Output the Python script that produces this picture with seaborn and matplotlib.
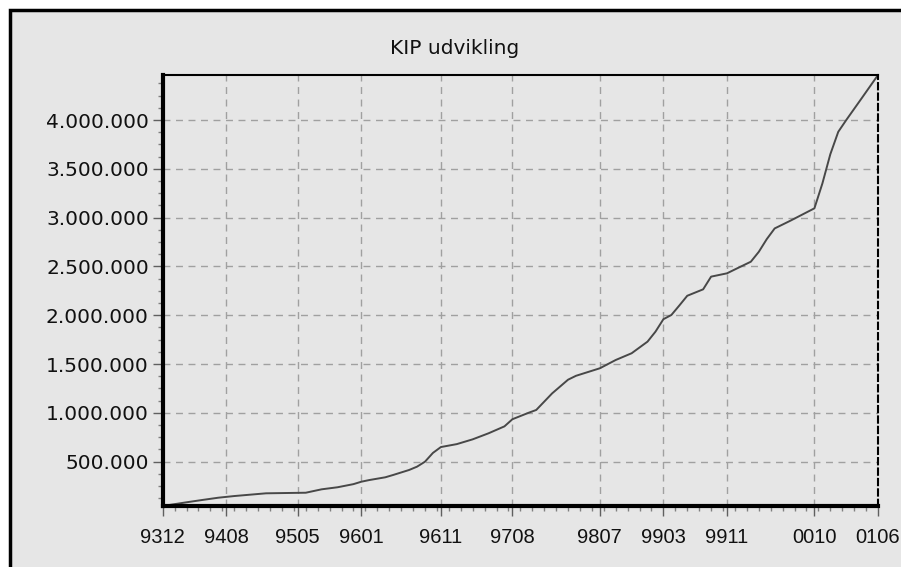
import matplotlib
matplotlib.use("Agg")
import matplotlib.pyplot as plt
import matplotlib.ticker as mticker
from matplotlib.patches import Rectangle
import numpy as np
import pandas as pd
import seaborn as sns

# months counted from 9312 (Dec 1993)
months = [0, 3, 5, 7, 9, 13, 18, 20, 22, 24, 25, 26, 28, 29, 31, 32, 33, 34, 35,
          37, 39, 41, 43, 44, 46, 47, 49, 51, 52, 55, 57, 59, 61, 62, 63, 64, 65,
          66, 68, 69, 71, 72, 74, 75, 76, 77, 79, 82, 83, 84, 85, 86, 88, 90]
kip = [46000, 84000, 108000, 131000, 148000, 176000, 182000, 217000, 238000,
       270000, 295000, 312000, 340000, 364000, 415000, 449000, 500000, 590000,
       650000, 680000, 729000, 791000, 862000, 935000, 1000000, 1030000,
       1200000, 1340000, 1380000, 1457000, 1542000, 1611000, 1730000, 1832000,
       1960000, 2003000, 2100000, 2200000, 2266000, 2396000, 2430000, 2470000,
       2549000, 2650000, 2780000, 2890000, 2970000, 3096000, 3350000, 3650000,
       3880000, 4000000, 4230000, 4462000]

tick_months = [0, 8, 17, 25, 35, 44, 55, 63, 71, 82, 90]
tick_labels = ["9312", "9408", "9505", "9601", "9611", "9708", "9807", "9903",
               "9911", "0010", "0106"]
y_ticks = [500000, 1000000, 1500000, 2000000, 2500000, 3000000, 3500000, 4000000]

df = pd.DataFrame({"month": months, "kip": kip})

sns.set_style("white")
plt.rcParams["font.family"] = ["DejaVu Sans"]

BG = "#e6e6e6"
fig = plt.figure(figsize=(9.01, 5.67), dpi=100)
fig.patch.set_facecolor("white")

# outer panel frame (only top and left borders visible)
fig.patches.append(Rectangle((9.5 / 901, -0.05), 1.1, (567 - 9.5) / 567 + 0.05,
                             transform=fig.transFigure, facecolor=BG,
                             edgecolor="black", linewidth=2.5, zorder=-10))

ax = fig.add_axes([162.7 / 901, 61 / 567, (878 - 162.7) / 901, (506 - 75) / 567])
ax.set_zorder(1)
ax.set_facecolor(BG)

sns.lineplot(data=df, x="month", y="kip", ax=ax, color="#484848", linewidth=1.4)

ax.set_xlim(0, 90)
ax.set_ylim(min(kip), max(kip))

ax.xaxis.set_major_locator(mticker.FixedLocator(tick_months))
ax.xaxis.set_major_formatter(mticker.FixedFormatter(tick_labels))
ax.xaxis.set_minor_locator(mticker.MultipleLocator(1.5))
ax.yaxis.set_major_locator(mticker.FixedLocator(y_ticks))
ax.yaxis.set_major_formatter(
    mticker.FuncFormatter(lambda v, p: f"{int(v):,}".replace(",", ".")))
ax.yaxis.set_minor_locator(mticker.MultipleLocator(125000))

ax.grid(True, which="major", color="#a0a0a0", linestyle=(0, (5, 4)), linewidth=1.0)
ax.tick_params(axis="both", which="major", length=7, width=1.0, color="#606060",
               labelsize=14.5, labelcolor="#111111", pad=3, direction="out")
ax.tick_params(axis="both", which="minor", length=3.5, width=1.0, color="#808080",
               direction="out")
ax.tick_params(axis="x", which="both", bottom=True)
ax.tick_params(axis="y", which="both", left=True)
ax.tick_params(axis="x", which="major", pad=9)
for lbl in ax.get_xticklabels():
    lbl.set_fontfamily("Liberation Sans")
    lbl.set_fontsize(14.5)

ax.set_xlabel("")
ax.set_ylabel("")

for side in ["left", "bottom"]:
    ax.spines[side].set_linewidth(3)
    ax.spines[side].set_color("black")
ax.spines["top"].set_linewidth(1.5)
ax.spines["top"].set_color("black")
ax.spines["right"].set_linewidth(1.5)
ax.spines["right"].set_color("black")
ax.spines["right"].set_linestyle((0, (3, 2)))

# title is centred on the whole panel, not on the plot area
fig.text(455 / 901, 1 - 49 / 567, "KIP udvikling", fontsize=14.5,
         ha="center", va="center", color="#111111")

fig.savefig("out.png", dpi=100, facecolor=fig.get_facecolor())
